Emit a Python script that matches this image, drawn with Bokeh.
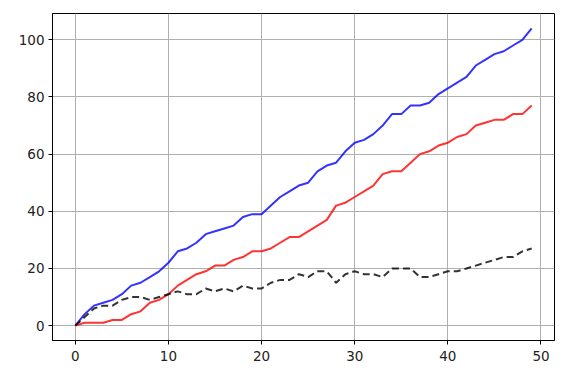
from bokeh.plotting import figure
from bokeh.models import Range1d, FixedTicker
from bokeh.embed import file_html
from bokeh.resources import INLINE

x = list(range(50))
blue = [0, 4, 7, 8, 9, 11, 14, 15, 17, 19,
        22, 26, 27, 29, 32, 33, 34, 35, 38, 39,
        39, 42, 45, 47, 49, 50, 54, 56, 57, 61,
        64, 65, 67, 70, 74, 74, 77, 77, 78, 81,
        83, 85, 87, 91, 93, 95, 96, 98, 100, 104]
red = [0, 1, 1, 1, 2, 2, 4, 5, 8, 9,
       11, 14, 16, 18, 19, 21, 21, 23, 24, 26,
       26, 27, 29, 31, 31, 33, 35, 37, 42, 43,
       45, 47, 49, 53, 54, 54, 57, 60, 61, 63,
       64, 66, 67, 70, 71, 72, 72, 74, 74, 77]
black = [0, 3, 6, 7, 7, 9, 10, 10, 9, 10,
         11, 12, 11, 11, 13, 12, 13, 12, 14, 13,
         13, 15, 16, 16, 18, 17, 19, 19, 15, 18,
         19, 18, 18, 17, 20, 20, 20, 17, 17, 18,
         19, 19, 20, 21, 22, 23, 24, 24, 26, 27]
x_ticks = [0, 10, 20, 30, 40, 50]
y_ticks = [0, 20, 40, 60, 80, 100]

p = figure(width=565, height=382, output_backend="svg", toolbar_location=None,
           x_range=Range1d(-2.45, 51.45), y_range=Range1d(-5.2, 109.2),
           min_border_left=52, min_border_right=11, min_border_top=13, min_border_bottom=42)

p.line(x, blue, line_color="blue", line_alpha=0.8, line_width=2)
p.line(x, red, line_color="red", line_alpha=0.8, line_width=2)
p.line(x, black, line_color="black", line_alpha=0.8, line_width=2, line_dash="7 4")

p.xaxis.ticker = FixedTicker(ticks=x_ticks)
p.yaxis.ticker = FixedTicker(ticks=y_ticks)
for ax in (p.xaxis[0], p.yaxis[0]):
    ax.major_label_text_font = "DejaVu Sans"
    ax.major_label_text_font_size = "13.5px"
    ax.major_label_text_color = "#222222"
    ax.major_tick_in = 0
    ax.major_tick_out = 4
    ax.major_tick_line_color = "black"
    ax.minor_tick_line_color = None
    ax.axis_line_color = "black"
p.xaxis[0].major_label_standoff = 6
p.yaxis[0].major_label_standoff = 4

p.grid.grid_line_color = "#b0b0b0"
p.grid.grid_line_width = 1
p.outline_line_color = "black"
p.outline_line_width = 1
p.outline_line_alpha = 1
p.background_fill_color = "white"
p.border_fill_color = "white"

open("out.html", "w").write(file_html(p, INLINE))
